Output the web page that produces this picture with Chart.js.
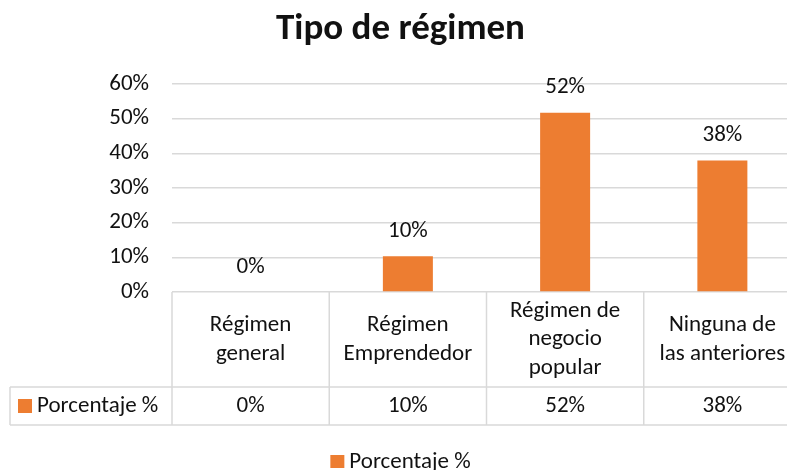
<!DOCTYPE html>
<html>
<head>
<meta charset="utf-8">
<script src="https://cdn.jsdelivr.net/npm/chart.js@4"></script>
<style>
  html, body { margin: 0; padding: 0; overflow: hidden; background: #fff; }
  #wrap { width: 801px; height: 470px; }
</style>
</head>
<body>
<div id="wrap"><canvas id="regimenChart"></canvas></div>
<script>
// Data
const categories = [
    ['Régimen', 'general'],
    ['Régimen', 'Emprendedor'],
    ['Régimen de', 'negocio', 'popular'],
    ['Ninguna de', 'las anteriores']
];
const seriesName = 'Porcentaje %';
const values = [0, 10.34, 51.72, 37.93];
const yTicks = [0, 10, 20, 30, 40, 50, 60];

const FONT = 'Carlito, Calibri, Lato, sans-serif';
const orange = '#ED7D31';
const lineGray = '#d9d9d9';
const textSize = 23;

const pct = v => Math.round(v) + '%';

// Draws value labels, the data table under the axis and the bottom legend
const tablePlugin = {
    id: 'dataTable',
    afterDraw(chart) {
        const { ctx, scales: { x, y } } = chart;
        const n = categories.length;
        const colW = (x.right - x.left) / n;
        const top = y.bottom;
        const row1 = top + 95;
        const row2 = row1 + 38;
        const leftEdge = 10;

        ctx.save();
        ctx.font = textSize + 'px ' + FONT;
        ctx.fillStyle = '#111';
        ctx.textAlign = 'center';
        ctx.textBaseline = 'middle';

        // labels over the bars
        values.forEach((v, i) => {
            ctx.fillText(pct(v), x.getPixelForValue(i), y.getPixelForValue(v) - 25);
        });

        // table lines
        ctx.strokeStyle = lineGray;
        ctx.lineWidth = 1.5;
        ctx.beginPath();
        ctx.moveTo(leftEdge, row1); ctx.lineTo(x.right, row1);
        ctx.moveTo(leftEdge, row2); ctx.lineTo(x.right, row2);
        ctx.moveTo(leftEdge, row1); ctx.lineTo(leftEdge, row2);
        for (let i = 0; i <= n; i++) {
            const xx = x.left + colW * i;
            ctx.moveTo(xx, top); ctx.lineTo(xx, row2);
        }
        ctx.stroke();

        // category names and values
        const lh = 28.5;
        const mid1 = (top + row1) / 2;
        const mid2 = (row1 + row2) / 2;
        categories.forEach((lines, i) => {
            const cx = x.getPixelForValue(i);
            const start = mid1 - (lines.length - 1) * lh / 2;
            lines.forEach((t, k) => ctx.fillText(t, cx, start + k * lh));
            ctx.fillText(pct(values[i]), cx, mid2);
        });

        // series key in the table
        ctx.fillStyle = orange;
        ctx.fillRect(18, mid2 - 7, 14, 14);
        ctx.fillStyle = '#111';
        ctx.textAlign = 'left';
        ctx.fillText(seriesName, 37, mid2);

        // bottom legend
        const tw = ctx.measureText(seriesName).width;
        const total = 14 + 5 + tw;
        const lx = (chart.width - total) / 2;
        const ly = 462;
        ctx.fillStyle = orange;
        ctx.fillRect(lx, ly - 7, 14, 13);
        ctx.fillStyle = '#111';
        ctx.fillText(seriesName, lx + 19, ly);
        ctx.restore();
    }
};

const ctx = document.getElementById('regimenChart').getContext('2d');
const regimenChart = new Chart(ctx, {
    type: 'bar',
    data: {
        labels: categories,
        datasets: [{
            label: seriesName,
            data: values,
            backgroundColor: orange,
            borderWidth: 0,
            categoryPercentage: 1,
            barPercentage: 0.318
        }]
    },
    options: {
        responsive: true,
        maintainAspectRatio: false,
        animation: false,
        layout: { padding: 0 },
        scales: {
            x: {
                ticks: { display: false },
                grid: { display: false },
                border: { display: false },
                afterFit: s => { s.height = 178; }
            },
            y: {
                min: 0,
                max: 60,
                afterBuildTicks: s => { s.ticks = yTicks.map(v => ({ value: v })); },
                ticks: {
                    padding: 23,
                    color: '#111',
                    font: { family: FONT, size: textSize },
                    callback: v => v + '%'
                },
                grid: { color: lineGray, lineWidth: 1.5, drawTicks: false },
                border: { display: false },
                afterFit: s => { s.width = 172; }
            }
        },
        plugins: {
            legend: { display: false },
            tooltip: { enabled: false },
            title: {
                display: true,
                text: 'Tipo de régimen',
                color: '#111',
                font: { family: FONT, size: 37, weight: 'bold', lineHeight: 1.2 },
                padding: { top: 8, bottom: 31.6 }
            }
        }
    },
    plugins: [tablePlugin]
});
</script>
</body>
</html>
